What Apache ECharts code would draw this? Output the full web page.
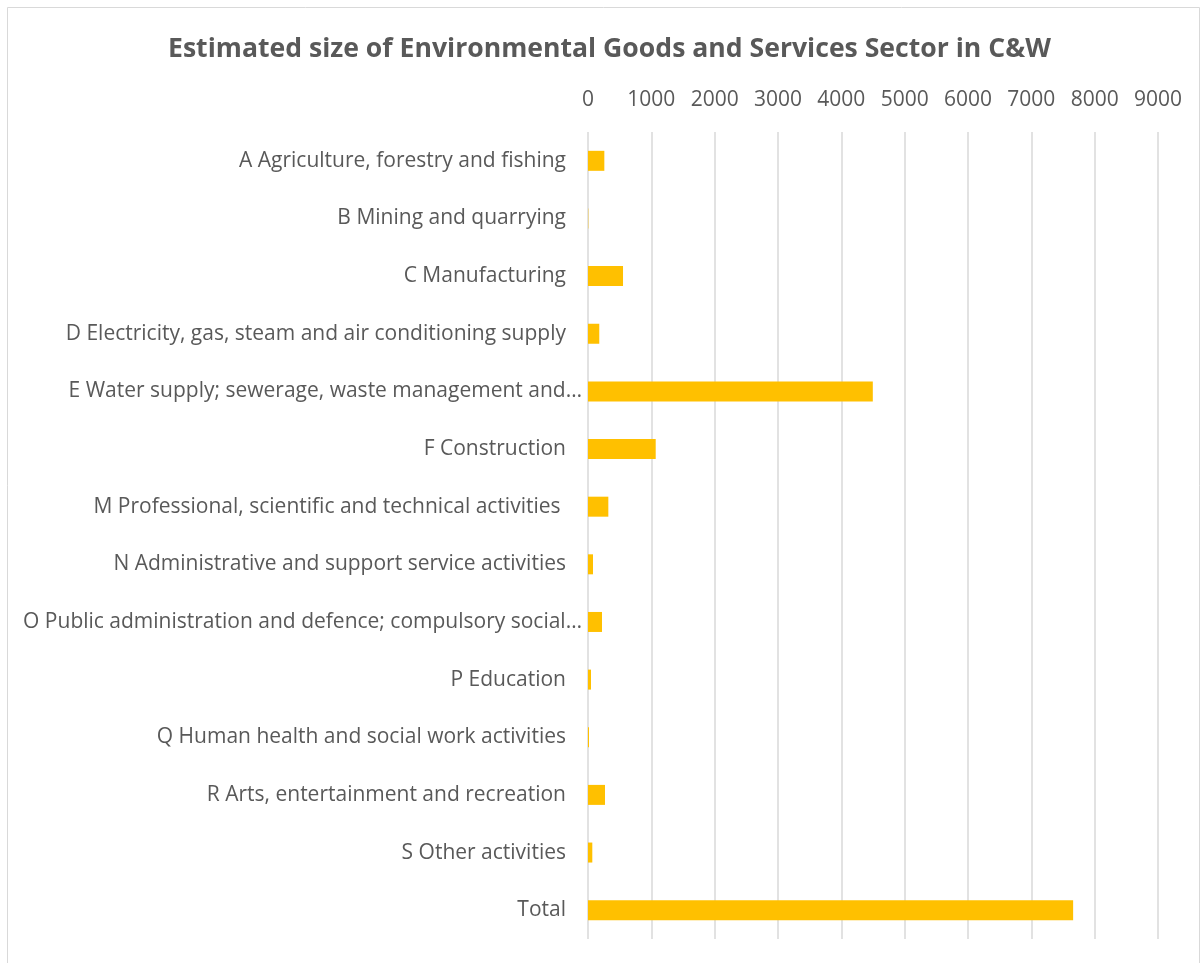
<!DOCTYPE html>
<html>
<head>
<meta charset="utf-8">
<script src="https://cdn.jsdelivr.net/npm/echarts@6/dist/echarts.min.js"></script>
<style>
html,body{margin:0;padding:0;background:#fff;}
#chart{width:1203px;height:963px;}
</style>
</head>
<body>
<div id="chart"></div>
<script>
const titleText = 'Estimated size of Environmental Goods and Services Sector in C&W';
const categories = [
  'A Agriculture, forestry and fishing',
  'B Mining and quarrying',
  'C Manufacturing',
  'D Electricity, gas, steam and air conditioning supply',
  'E Water supply; sewerage, waste management and…',
  'F Construction',
  'M Professional, scientific and technical activities ',
  'N Administrative and support service activities',
  'O Public administration and defence; compulsory social…',
  'P Education',
  'Q Human health and social work activities',
  'R Arts, entertainment and recreation',
  'S Other activities',
  'Total'
];
const values = [258, 5, 553, 178, 4497, 1069, 321, 79, 221, 47, 16, 268, 68, 7660];
const xTicks = {min: 0, max: 9000, interval: 1000};

const FONT = 'Open Sans';
const chart = echarts.init(document.getElementById('chart'));
chart.setOption({
  backgroundColor: '#fff',
  animation: false,
  title: {
    text: titleText,
    left: 163,
    top: 31,
    textStyle: {fontFamily: FONT, fontSize: 26.6, fontWeight: 'bold', color: '#595959'}
  },
  graphic: [{
    type: 'rect',
    shape: {x: 7.5, y: 7.5, width: 1192, height: 960},
    style: {fill: 'none', stroke: '#d9d9d9', lineWidth: 1},
    silent: true
  }],
  grid: {left: 588, right: 45, top: 132, bottom: 24, containLabel: false},
  xAxis: {
    type: 'value',
    position: 'top',
    min: xTicks.min, max: xTicks.max, interval: xTicks.interval,
    axisLine: {show: false},
    axisTick: {show: false},
    splitLine: {show: true, lineStyle: {color: '#d9d9d9', width: 1.5}},
    axisLabel: {fontFamily: FONT, fontSize: 21, color: '#595959', margin: 21,
      formatter: function (v) { return String(v); }}
  },
  yAxis: {
    type: 'category',
    inverse: true,
    data: categories,
    axisLine: {show: false},
    axisTick: {show: false},
    axisLabel: {
      margin: 6,
      formatter: function (v) { return v.endsWith('…') ? '{t|' + v + '}' : '{n|' + v + '}'; },
      rich: {
        n: {fontFamily: FONT, fontSize: 21, color: '#595959', padding: [0, 16, 0, 0]},
        t: {fontFamily: FONT, fontSize: 21, color: '#595959'}
      }
    }
  },
  series: [{
    type: 'bar',
    data: values,
    barWidth: 20,
    itemStyle: {color: '#FFC000'}
  }]
});
</script>
</body>
</html>
